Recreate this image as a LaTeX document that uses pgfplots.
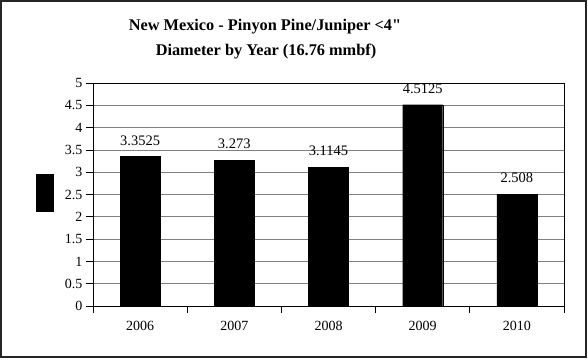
\documentclass[border=0pt]{standalone}
\usepackage{fontspec}
\setmainfont{Liberation Serif}[Ligatures=TeXOff]
\usepackage{pgfplots}
\pgfplotsset{compat=1.18}
\usepackage{pgfplotstable}

\pgfplotstableread{
x y lbl
0 3.3525 3.3525
1 3.273 3.273
2 3.1145 3.1145
3 4.5125 4.5125
4 2.508 2.508
}\pinyon

\begin{document}
\begin{tikzpicture}[x=1bp,y=1bp]
\path (0,0) rectangle (588,360);
% outer frame
\draw[line width=1.2bp,black!85] (1,3) rectangle (586,359);
% title
\node[font=\bfseries\fontsize{16.3bp}{19bp}\selectfont] at (265,333) {New Mexico - Pinyon Pine/Juniper <4"};
\node[font=\bfseries\fontsize{16.3bp}{19bp}\selectfont] at (266,308) {Diameter by Year (16.76 mmbf)};
% the squashed y-axis title
\fill[black] (36,148) rectangle (54,186);

\begin{axis}[
  at={(93bp,54bp)}, anchor=south west,
  scale only axis, width=471bp, height=223bp,
  xmin=-0.5, xmax=4.5, ymin=0, ymax=5,
  xtick={-0.5,0.5,1.5,2.5,3.5,4.5},
  xticklabels={2006,2007,2008,2009,2010},
  x tick label as interval=true,
  ytick={0,0.5,...,5},
  /pgf/number format/assume math mode=true,
  tick label style={font=\fontsize{14bp}{16bp}\selectfont},
  xticklabel style={yshift=-5bp},
  tick align=outside, tick pos=left,
  major tick length=7bp,
  ymajorgrids, grid style={gray, line width=0.8bp},
  axis line style={black, line width=0.9bp},
  tick style={black, line width=0.8bp},
]
\addplot[ybar, bar width=40bp, fill=black, draw=black,
  point meta=explicit symbolic,
  nodes near coords,
  every node near coord/.append style={font=\fontsize{14.5bp}{16bp}\selectfont, inner sep=0pt, anchor=south, yshift=11bp}]
  table[x=x, y=y, meta=lbl] {\pinyon};
\end{axis}
\end{tikzpicture}
\end{document}
